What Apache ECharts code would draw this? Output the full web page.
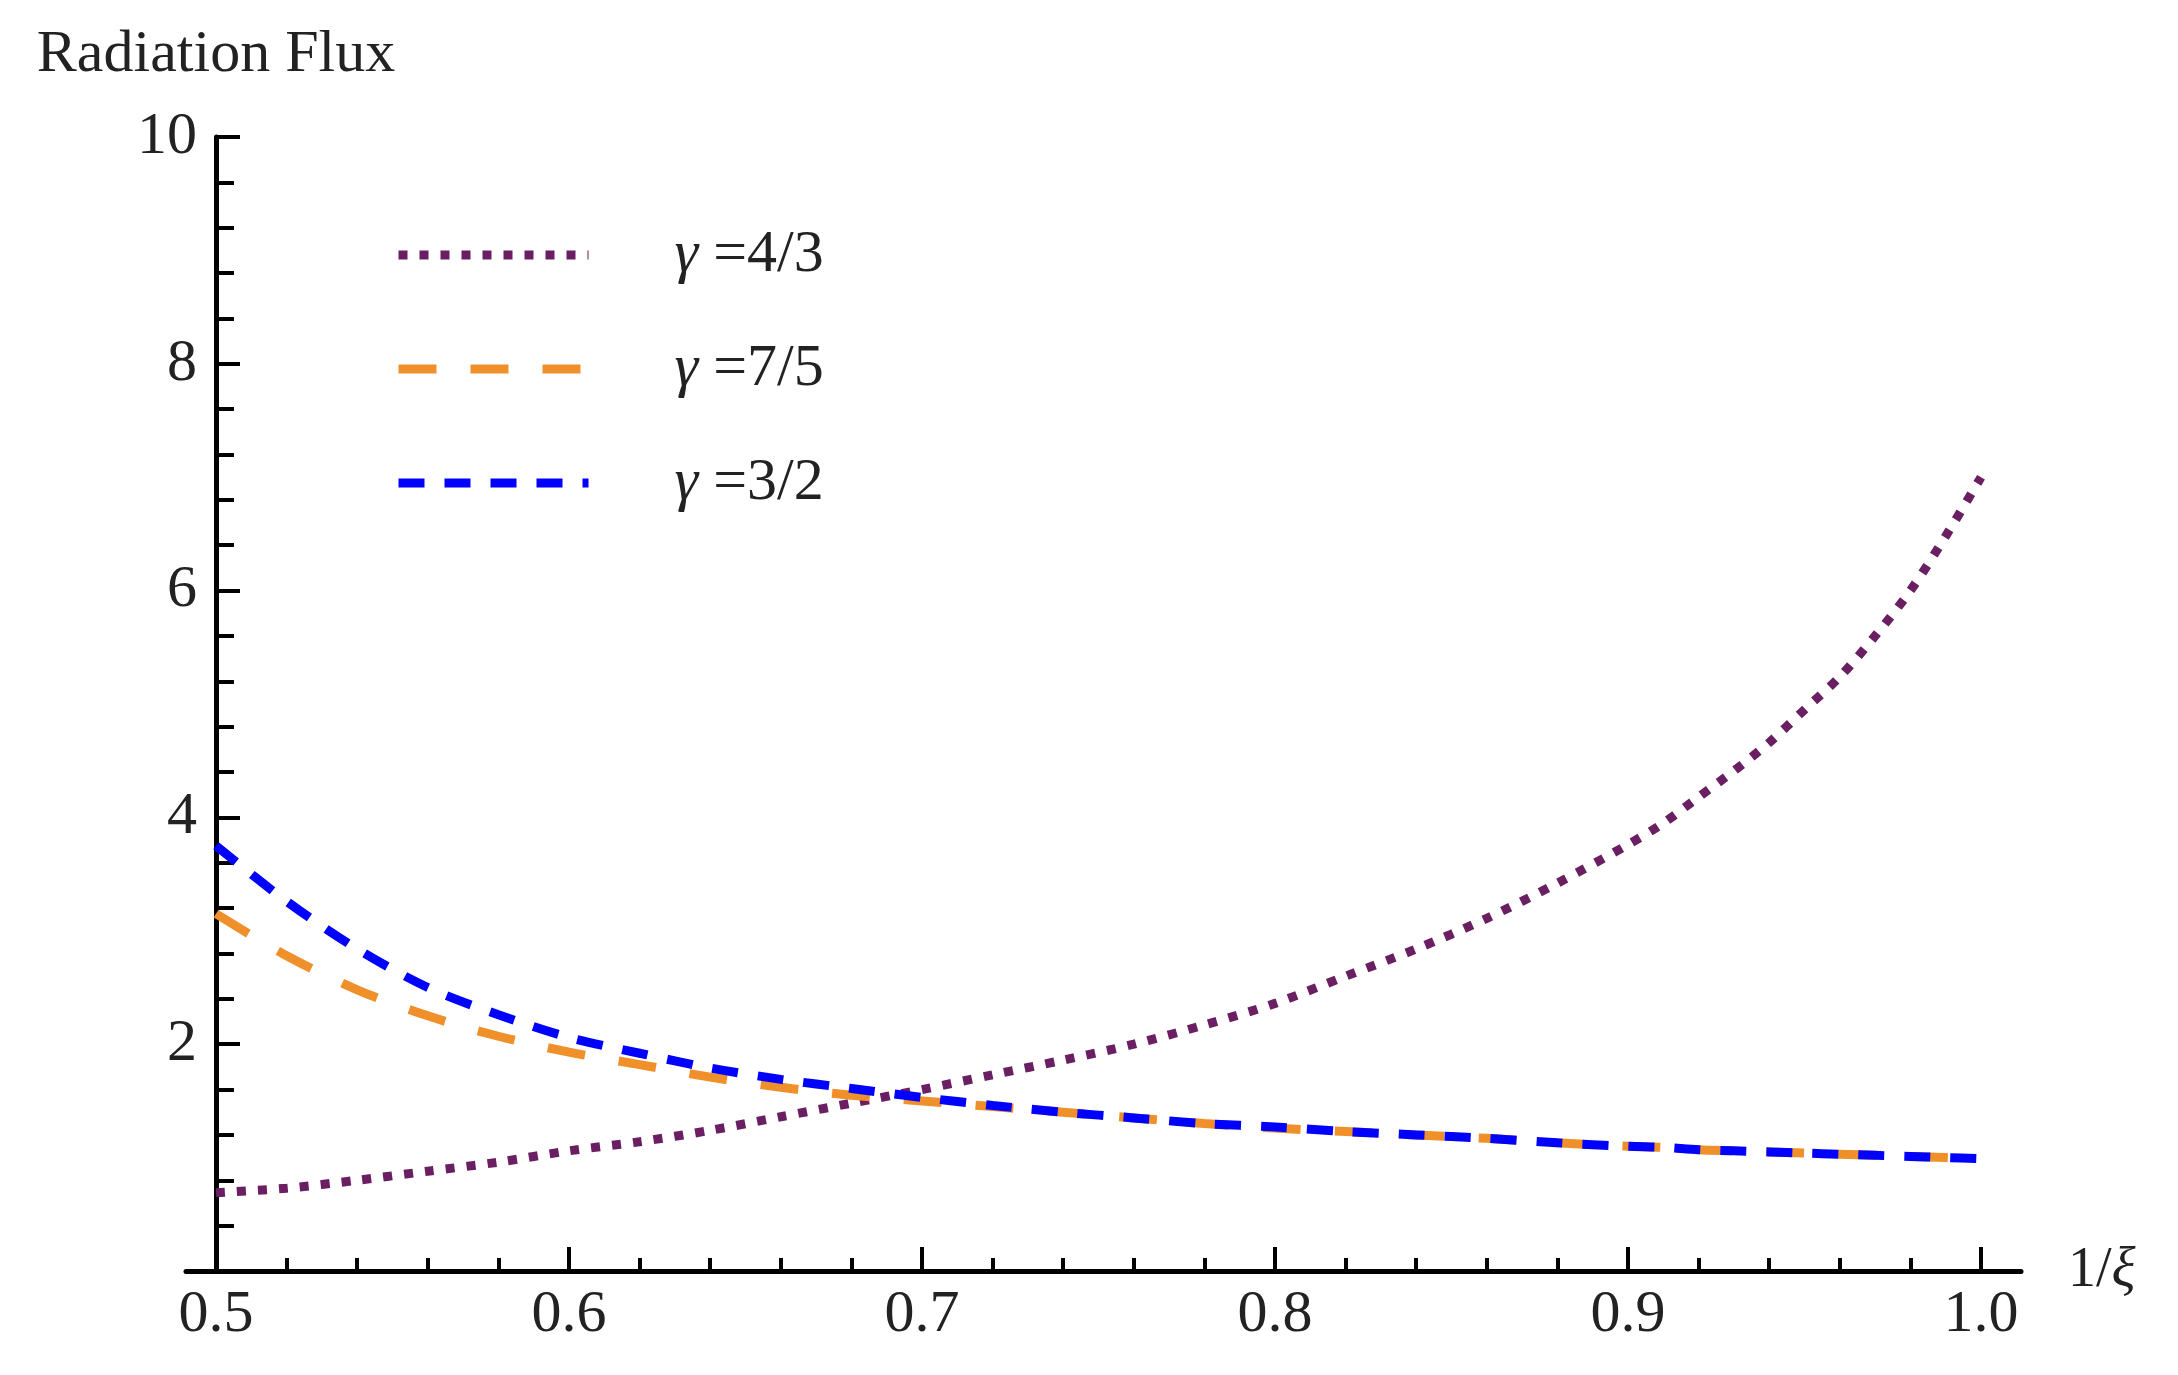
<!DOCTYPE html>
<html>
<head>
<meta charset="utf-8">
<script src="https://cdn.jsdelivr.net/npm/echarts@6/dist/echarts.min.js"></script>
<style>
html,body{margin:0;padding:0;background:#fff;}
#chart{width:2178px;height:1375px;}
</style>
</head>
<body>
<div id="chart"></div>
<script>
// 1/xi sample positions
const xValues = [0.50,0.52,0.54,0.56,0.58,0.60,0.62,0.64,0.66,0.68,0.70,0.72,0.74,0.76,0.78,0.80,0.82,0.84,0.86,0.88,0.90,0.91,0.92,0.93,0.94,0.95,0.96,0.97,0.98,0.99,1.00];
// gamma = 4/3 (purple dotted)
const purpleVals = [0.69,0.73,0.80,0.88,0.96,1.06,1.14,1.24,1.36,1.48,1.60,1.73,1.86,2.00,2.17,2.36,2.60,2.84,3.11,3.42,3.76,3.95,4.18,4.41,4.66,4.95,5.24,5.60,6.00,6.48,7.00];
// gamma = 7/5 (orange dashed)
const orangeVals = [3.15,2.78,2.48,2.25,2.07,1.93,1.82,1.71,1.62,1.55,1.50,1.45,1.40,1.35,1.30,1.26,1.23,1.20,1.17,1.13,1.10,1.09,1.07,1.06,1.05,1.04,1.03,1.02,1.01,1.00,0.99];
// gamma = 3/2 (blue dashed)
const blueVals = [3.75,3.26,2.84,2.50,2.26,2.06,1.92,1.79,1.69,1.61,1.53,1.46,1.40,1.35,1.30,1.27,1.23,1.20,1.17,1.13,1.10,1.09,1.07,1.06,1.05,1.04,1.03,1.02,1.01,1.00,0.99];
const seriesNames = ['γ=4/3', 'γ=7/5', 'γ=3/2'];
const xTicks = [0.5, 0.6, 0.7, 0.8, 0.9, 1.0];
const yTicks = [2, 4, 6, 8, 10];

const toPairs = (ys) => xValues.map((x, i) => [x, ys[i]]);
const FONT = '"Liberation Serif", "DejaVu Serif", serif';

const chart = echarts.init(document.getElementById('chart'), null, {renderer: 'canvas'});
chart.setOption({
  backgroundColor: '#ffffff',
  animation: false,
  grid: [
    {left: 216, right: 197, top: 137, bottom: 104, containLabel: false},
    {left: 186, right: 157, top: 137, bottom: 104, containLabel: false}
  ],
  legend: {
    orient: 'vertical',
    left: 389,
    top: 220,
    itemWidth: 190,
    itemHeight: 12,
    itemGap: 54,
    data: seriesNames,
    itemStyle: {opacity: 0},
    lineStyle: {width: 9, cap: 'butt'},
    textStyle: {
      fontFamily: FONT,
      fontSize: 60,
      lineHeight: 60,
      color: '#222',
      padding: [0, 0, 0, 81],
      rich: {
        g: {fontFamily: FONT, fontSize: 60, fontStyle: 'italic', color: '#222'},
        t: {fontFamily: FONT, fontSize: 60, color: '#222'}
      }
    },
    formatter: (name) => '{g|γ}{t| =' + name.slice(2) + '}'
  },
  xAxis: [
    {
      type: 'value', gridIndex: 0, min: 0.5, max: 1.0, interval: 0.1,
      name: '{a|1/}{b|ξ}', nameLocation: 'end', nameGap: 87,
      nameTextStyle: {
        fontFamily: FONT, fontSize: 56, color: '#222',
        rich: {a: {fontFamily: FONT, fontSize: 56, color: '#222'}, b: {fontFamily: FONT, fontSize: 56, fontStyle: 'italic', color: '#222'}}
      },
      axisLine: {show: false},
      axisTick: {show: true, inside: true, length: 24, lineStyle: {color: '#000', width: 4}},
      minorTick: {show: true, splitNumber: 5, length: 13, lineStyle: {color: '#000', width: 4}},
      splitLine: {show: false},
      axisLabel: {
        margin: 14, fontFamily: FONT, fontSize: 60, color: '#222',
        formatter: (v) => xTicks.some(t => Math.abs(t - v) < 1e-9) ? v.toFixed(1) : ''
      }
    },
    {
      type: 'value', gridIndex: 1, min: 0, max: 1,
      axisLine: {show: true, onZero: false, lineStyle: {color: '#000', width: 5}},
      axisTick: {show: false}, axisLabel: {show: false}, splitLine: {show: false}
    }
  ],
  yAxis: [
    {
      type: 'value', gridIndex: 0, min: 0, max: 10, interval: 2,
      name: 'Radiation Flux', nameLocation: 'end', nameGap: 52,
      nameTextStyle: {fontFamily: FONT, fontSize: 60, color: '#222', align: 'center'},
      axisLine: {show: true, onZero: false, lineStyle: {color: '#000', width: 5}},
      axisTick: {show: true, inside: true, length: 24, lineStyle: {color: '#000', width: 4}},
      minorTick: {show: true, splitNumber: 5, length: 18, lineStyle: {color: '#000', width: 4}},
      splitLine: {show: false},
      axisLabel: {
        margin: 19, fontFamily: FONT, fontSize: 60, color: '#222', padding: [0, 0, 16, 0],
        formatter: (v) => yTicks.includes(v) ? String(v) : ''
      }
    },
    {type: 'value', gridIndex: 1, min: 0, max: 10, show: false}
  ],
  series: [
    {
      name: seriesNames[0], type: 'line', xAxisIndex: 0, yAxisIndex: 0,
      data: toPairs(purpleVals), smooth: 0.3, symbol: 'none', showSymbol: false,
      color: '#6a1f62',
      lineStyle: {color: '#6a1f62', width: 9, type: [9, 12], cap: 'butt'},
      z: 2
    },
    {
      name: seriesNames[1], type: 'line', xAxisIndex: 0, yAxisIndex: 0,
      data: toPairs(orangeVals), smooth: 0.3, symbol: 'none', showSymbol: false,
      color: '#f0902a',
      lineStyle: {color: '#f0902a', width: 9, type: [38, 34], cap: 'butt'},
      z: 3
    },
    {
      name: seriesNames[2], type: 'line', xAxisIndex: 0, yAxisIndex: 0,
      data: toPairs(blueVals), smooth: 0.3, symbol: 'none', showSymbol: false,
      color: '#0000ff',
      lineStyle: {color: '#0000ff', width: 9, type: [26, 20], cap: 'butt'},
      z: 4
    }
  ]
});
</script>
</body>
</html>
